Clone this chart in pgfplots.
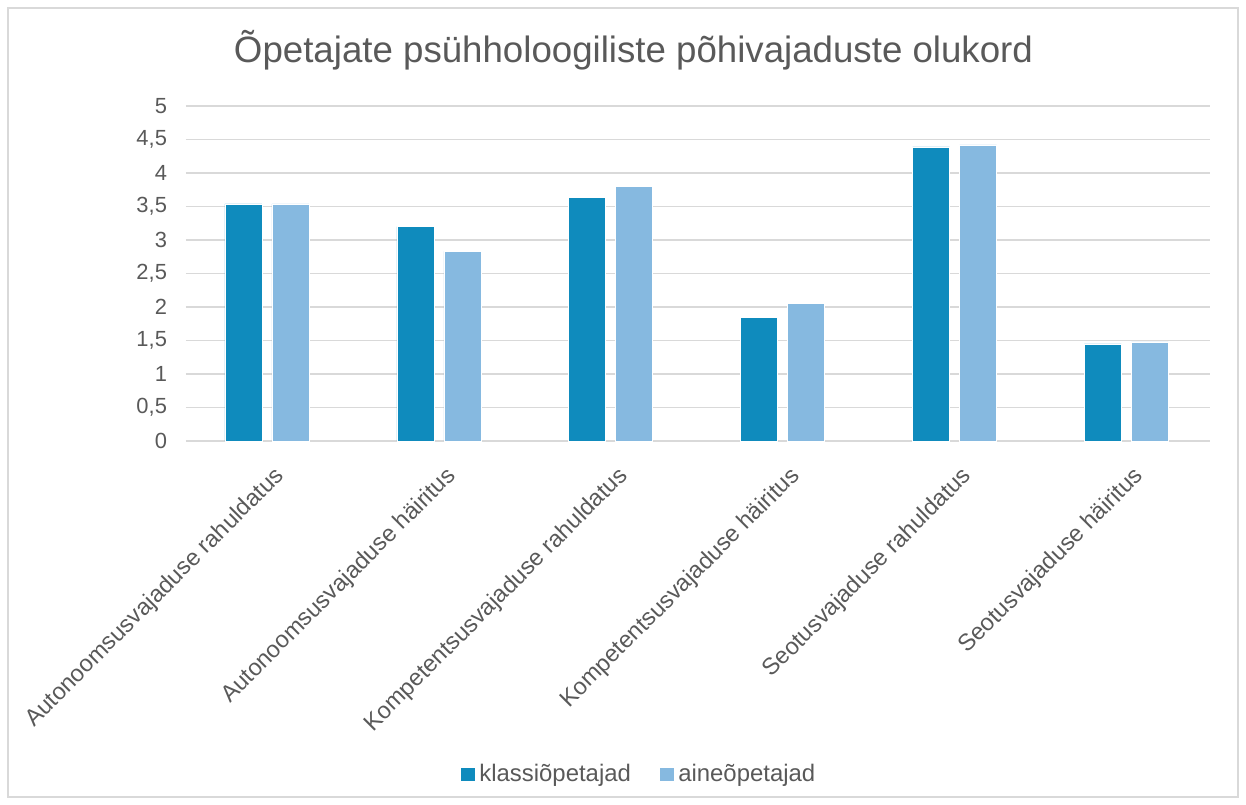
\documentclass[border=0pt]{standalone}
\usepackage{fontspec}
\setmainfont{Liberation Sans}
\usepackage{pgfplots}
\pgfplotsset{compat=1.18}
\usetikzlibrary{calc}
\definecolor{cdark}{HTML}{0F8BBD}
\definecolor{clight}{HTML}{86B9E0}
\definecolor{ctext}{HTML}{595959}
\definecolor{cgrid}{HTML}{D9D9D9}

\begin{document}
\begin{tikzpicture}
% frame of the whole chart (1 px = 0.5 bp)
\useasboundingbox (-93bp,-182bp) rectangle (530bp,220.5bp);
\draw[cgrid, line width=0.6bp] (-89bp,-178bp) rectangle (526bp,216.5bp);
\begin{axis}[
  name=main,
  scale only axis, width=512bp, height=167.5bp,
  ybar=5bp, bar width=18.5bp,
  xmin=-0.471, xmax=5.486, ymin=0, ymax=5,
  ytick={0,0.5,...,5},
  xtick=data,
  xticklabels={Autonoomsusvajaduse rahuldatus, Autonoomsusvajaduse häiritus, Kompetentsusvajaduse rahuldatus, Kompetentsusvajaduse häiritus, Seotusvajaduse rahuldatus, Seotusvajaduse häiritus},
  x tick label style={rotate=45, anchor=east, font=\fontsize{11.8}{13}\selectfont, text=ctext, xshift=-3bp, yshift=-16bp},
  y tick label style={font=\fontsize{11}{13}\selectfont, text=ctext, xshift=-6bp},
  /pgf/number format/use comma,
  /pgf/number format/assume math mode=true,
  major tick length=0pt,
  axis line style={draw=none},
  ymajorgrids, grid style={cgrid, line width=0.75bp},
  legend style={at={(0.443,-0.995)}, anchor=center, draw=none, fill=none, legend columns=2, font=\fontsize{12}{13}\selectfont, text=ctext, /tikz/every even column/.append style={column sep=12bp}},
  legend image code/.code={\fill[#1] (0bp,-3.7bp) rectangle (7.4bp,3.7bp);},
]
\addplot[fill=cdark, draw=white, line width=0.3bp] coordinates {(0,3.54) (1,3.20) (2,3.64) (3,1.85) (4,4.39) (5,1.45)};
\addlegendentry{klassiõpetajad}
\addplot[fill=clight, draw=white, line width=0.3bp] coordinates {(0,3.54) (1,2.83) (2,3.80) (3,2.05) (4,4.42) (5,1.48)};
\addlegendentry{aineõpetajad}
\end{axis}
\node[anchor=center, font=\fontsize{18.4}{21}\selectfont, text=ctext] at ($(main.north west)!0.437!(main.north east)+(0,28bp)$) {Õpetajate psühholoogiliste põhivajaduste olukord};
\end{tikzpicture}
\end{document}
